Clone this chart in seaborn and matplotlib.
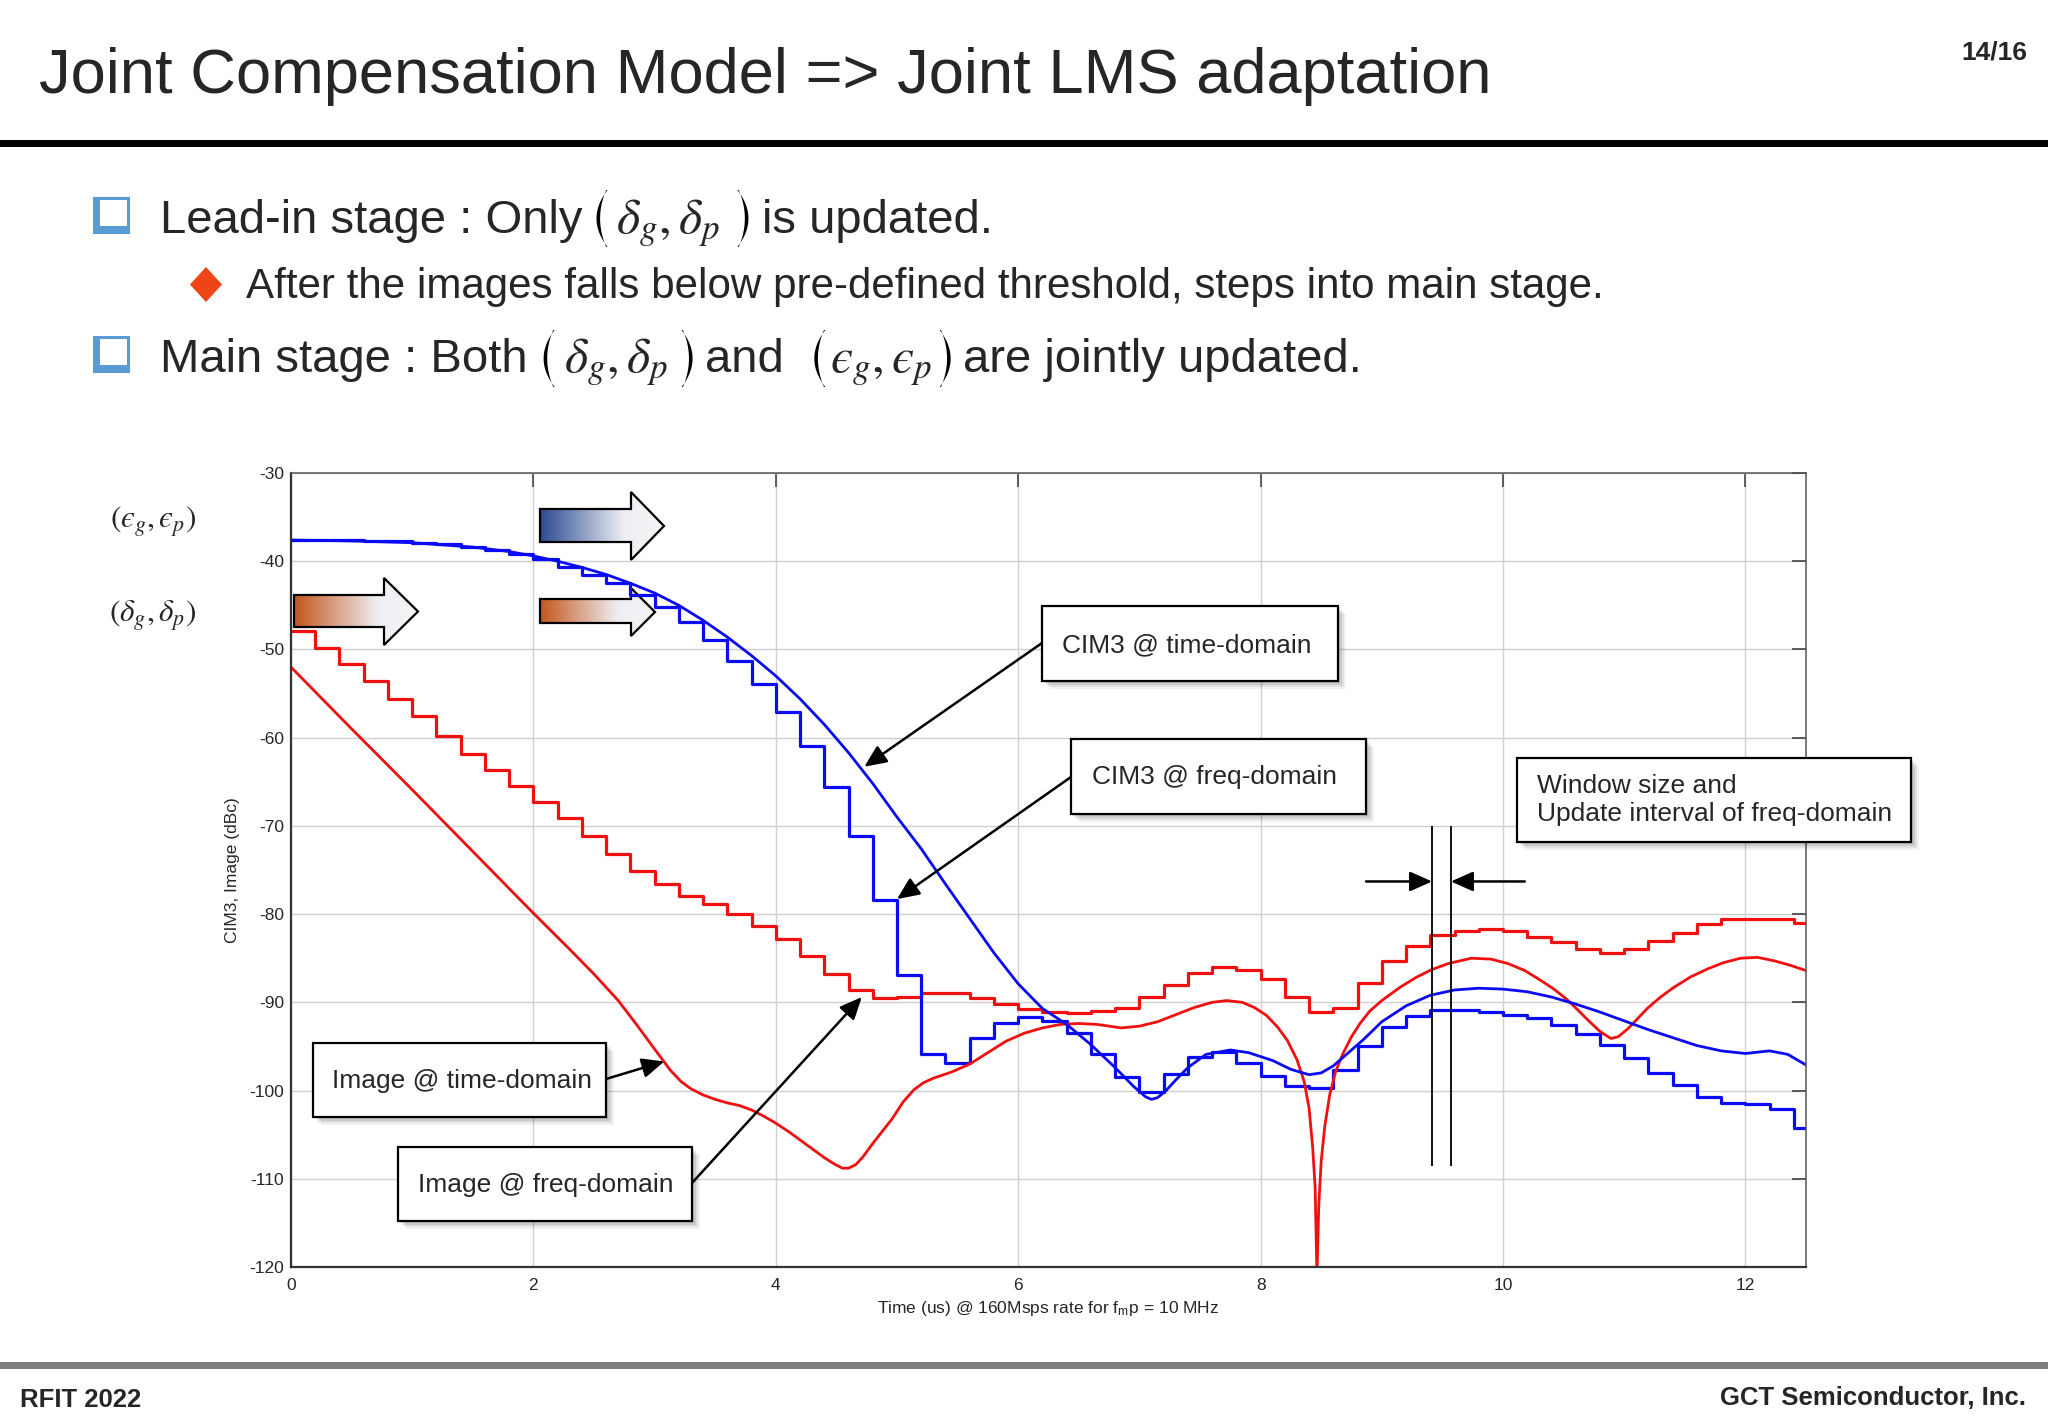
import numpy as np
import matplotlib
matplotlib.use("Agg")
import matplotlib.pyplot as plt
import seaborn as sns
from matplotlib.patches import Polygon, Rectangle
from matplotlib.colors import LinearSegmentedColormap

# ---------------- data ----------------
# CIM3 @ time-domain (smooth blue)
t_cim3 = [0.0, 0.5, 1.0, 1.5, 1.8, 2.0, 2.2, 2.4, 2.6, 2.8, 3.0, 3.2, 3.4, 3.6, 3.8,
          4.0, 4.2, 4.4, 4.6, 4.8, 5.0, 5.2, 5.4, 5.6, 5.8, 6.0, 6.2, 6.4, 6.6, 6.8,
          6.95, 7.05, 7.1, 7.15, 7.22, 7.3, 7.4, 7.55, 7.75, 7.9, 8.1, 8.25, 8.4,
          8.5, 8.6, 8.7, 8.85, 9.0, 9.2, 9.4, 9.6, 9.8, 10.0, 10.2, 10.4, 10.6, 10.8,
          11.0, 11.2, 11.4, 11.6, 11.8, 12.0, 12.2, 12.35, 12.5]
cim3_time = [-37.6, -37.7, -37.9, -38.4, -38.9, -39.4, -40.0, -40.7, -41.5, -42.5,
             -43.6, -45.0, -46.7, -48.6, -50.7, -53.0, -55.6, -58.5, -61.7, -65.2,
             -69.0, -72.6, -76.6, -80.5, -84.4, -87.9, -90.7, -92.5, -94.8, -97.4,
             -99.5, -100.7, -101.0, -100.8, -100.0, -98.8, -97.4, -95.9, -95.4, -95.7,
             -96.6, -97.6, -98.2, -98.0, -97.2, -96.0, -94.2, -92.2, -90.4, -89.2,
             -88.6, -88.4, -88.5, -88.8, -89.4, -90.2, -91.1, -92.1, -93.1, -94.0,
             -94.9, -95.5, -95.8, -95.5, -95.9, -97.1]

# Image @ time-domain (smooth red)
t_image = [0.0, 0.5, 1.0, 1.5, 2.0, 2.3, 2.5, 2.7, 2.85, 3.0, 3.13, 3.22, 3.3, 3.4,
           3.5, 3.6, 3.7, 3.8, 3.9, 4.0, 4.1, 4.2, 4.3, 4.4, 4.48, 4.55, 4.6, 4.66,
           4.72, 4.8, 4.88, 4.96, 5.05, 5.14, 5.22, 5.3, 5.45, 5.6, 5.75, 5.9, 6.05,
           6.2, 6.35, 6.5, 6.65, 6.85, 7.0, 7.15, 7.3, 7.45, 7.6, 7.72, 7.85, 7.95,
           8.05, 8.14, 8.22, 8.3, 8.36, 8.4, 8.43, 8.45, 8.465, 8.48, 8.5, 8.53, 8.57,
           8.62, 8.68, 8.75, 8.82, 8.9, 9.0, 9.15, 9.28, 9.41, 9.55, 9.74, 9.9, 10.04,
           10.18, 10.31, 10.42, 10.53, 10.62, 10.7, 10.8, 10.89, 10.95, 11.03, 11.1,
           11.19, 11.3, 11.41, 11.55, 11.69, 11.82, 11.96, 12.1, 12.24, 12.37, 12.5]
image_time = [-52.0, -59.0, -65.9, -72.9, -79.9, -84.0, -86.8, -89.8, -92.5, -95.3,
              -97.7, -99.0, -99.8, -100.5, -101.0, -101.4, -101.7, -102.2, -102.9,
              -103.7, -104.6, -105.6, -106.6, -107.6, -108.3, -108.8, -108.8, -108.4,
              -107.5, -106.0, -104.6, -103.2, -101.3, -99.9, -99.1, -98.6, -97.9,
              -97.0, -95.7, -94.4, -93.5, -92.9, -92.5, -92.4, -92.5, -92.9, -92.7,
              -92.2, -91.4, -90.6, -90.0, -89.8, -90.0, -90.6, -91.5, -92.8, -94.3,
              -96.5, -99.0, -102.0, -106.5, -111.0, -121.0, -113.0, -108.0, -104.0,
              -100.5, -97.8, -95.8, -93.9, -92.4, -91.0, -89.8, -88.3, -87.2, -86.3,
              -85.6, -85.0, -85.1, -85.6, -86.4, -87.5, -88.5, -89.7, -90.9, -92.0,
              -93.3, -94.1, -93.9, -93.0, -92.0, -90.7, -89.4, -88.3, -87.1, -86.2,
              -85.5, -85.0, -84.9, -85.3, -85.8, -86.4]

# freq-domain updates: one level per 0.2 us update interval
UPDATE_INTERVAL = 0.2
T_END = 12.5
image_freq = [-47.9, -49.8, -51.7, -53.6, -55.6, -57.6, -59.8, -61.8, -63.7, -65.5,
              -67.3, -69.1, -71.2, -73.2, -75.1, -76.6, -78.0, -78.9, -80.0, -81.3,
              -82.8, -84.8, -86.8, -88.6, -89.5, -89.4, -88.9, -88.9, -89.5, -90.2,
              -90.8, -91.1, -91.2, -91.0, -90.6, -89.4, -88.0, -86.7, -86.0, -86.3,
              -87.4, -89.4, -91.1, -90.6, -87.8, -85.3, -83.6, -82.4, -81.9, -81.7,
              -81.9, -82.6, -83.2, -83.9, -84.4, -83.9, -83.0, -82.1, -81.1, -80.6,
              -80.5, -80.6, -81.0]
cim3_freq = [-37.6, -37.6, -37.6, -37.7, -37.7, -37.9, -38.1, -38.4, -38.7, -39.2,
             -39.8, -40.6, -41.6, -42.5, -43.8, -45.2, -46.9, -48.9, -51.3, -53.9,
             -57.1, -60.9, -65.6, -71.2, -78.4, -86.9, -95.8, -96.9, -94.0, -92.3,
             -91.7, -92.1, -93.5, -95.8, -98.5, -100.2, -98.1, -96.2, -95.6, -96.9,
             -98.3, -99.5, -99.7, -97.7, -95.0, -92.8, -91.5, -90.9, -90.9, -91.1,
             -91.4, -91.8, -92.6, -93.6, -94.8, -96.3, -98.0, -99.4, -100.7, -101.4,
             -101.5, -102.1, -104.3]

x_ticks = [0, 2, 4, 6, 8, 10, 12]
y_ticks = [-30, -40, -50, -60, -70, -80, -90, -100, -110, -120]
window_edges = [9.415, 9.57]
window_span = (-108.6, -70)
window_arrow_y = -76.3

BLUE = "#0A0AF5"
RED = "#F01010"
EPS = "\u03f5"   # lunate epsilon, as on the slide
DELTA_PAIR = r"$\delta_g,\delta_p$"
EPS_PAIR = "$" + EPS + "_g," + EPS + "_p$"

# ---------------- style ----------------
sns.set_style("white")
plt.rcParams['font.family'] = ['Liberation Sans', 'DejaVu Sans']
plt.rcParams['mathtext.fontset'] = 'stix'
plt.rcParams['axes.unicode_minus'] = False

W, H = 2048, 1422
fig = plt.figure(figsize=(W / 100, H / 100), dpi=100, facecolor='white')
renderer = fig.canvas.get_renderer()


def fx(px):
    return px / W


def fy(py):
    return 1 - py / H


# layer under the plot (gradient arrows), the plot, layer over the plot (slide texts, boxes)
bg = fig.add_axes([0, 0, 1, 1], zorder=0)
ax = fig.add_axes([fx(291), fy(1267), (1806 - 291) / W, (1267 - 473) / H], zorder=1)
ax.set_facecolor('none')
top = fig.add_axes([0, 0, 1, 1], zorder=2)

# ---------------- the chart ----------------
step_t = np.round(np.arange(len(image_freq)) * UPDATE_INTERVAL, 1)
step_x = np.append(step_t, T_END)

sns.lineplot(x=step_x, y=np.append(image_freq, image_freq[-1]), ax=ax, color=RED,
             lw=2.3, drawstyle='steps-post', estimator=None, sort=False)
sns.lineplot(x=step_x, y=np.append(cim3_freq, cim3_freq[-1]), ax=ax, color=BLUE,
             lw=2.3, drawstyle='steps-post', estimator=None, sort=False)
sns.lineplot(x=t_image, y=image_time, ax=ax, color=RED, lw=2.0, estimator=None, sort=False)
sns.lineplot(x=t_cim3, y=cim3_time, ax=ax, color=BLUE, lw=2.0, estimator=None, sort=False)

ax.set_xlim(0, T_END)
ax.set_ylim(y_ticks[-1], y_ticks[0])
ax.set_xticks(x_ticks)
ax.set_yticks(y_ticks)
ax.grid(True, color='#cfcfcf', lw=1.0)
ax.set_axisbelow(True)
ax.tick_params(direction='in', length=10, width=1.2, color='#444444', labelsize=12.5,
               top=True, right=True)
ax.tick_params(axis='x', pad=8)
ax.tick_params(axis='y', pad=5)
for side in ['left', 'bottom']:
    ax.spines[side].set_color('#333333')
    ax.spines[side].set_linewidth(1.6)
for side in ['top', 'right']:
    ax.spines[side].set_color('#555555')
    ax.spines[side].set_linewidth(1.1)

ax.set_xlabel(r'Time (us) @ 160Msps rate for f$_{\mathregular{m}}$p = 10 MHz',
              fontsize=12.5, labelpad=4)
ax.set_ylabel('CIM3, Image (dBc)', fontsize=12.5, labelpad=7)

# window size markers
ax.vlines(window_edges, window_span[0], window_span[1], color='black', lw=1.3)
arrow_kw = dict(arrowstyle='-|>,head_length=0.9,head_width=0.4', color='black', lw=1.8,
                shrinkA=0, shrinkB=0, mutation_scale=15)
ax.annotate('', xy=(window_edges[0], window_arrow_y), xytext=(8.87, window_arrow_y),
            arrowprops=arrow_kw)
ax.annotate('', xy=(window_edges[1], window_arrow_y), xytext=(10.18, window_arrow_y),
            arrowprops=arrow_kw)

# callout arrows: tip on the curve, tail on the box edge
callouts = [((4.73, -63.3), (1042, 643)),
            ((5.0, -78.3), (1071, 777)),
            ((3.08, -96.7), (606, 1079)),
            ((4.71, -89.4), (692, 1183))]
for tip, tail in callouts:
    ax.annotate('', xy=tip, xycoords='data', xytext=(fx(tail[0]), fy(tail[1])),
                textcoords='figure fraction', arrowprops=arrow_kw, annotation_clip=False)

# ---------------- gradient block arrows ----------------
bg.set_axis_off()


def gradient_arrow(x0, xh, x1, ytop, ybot, yhtop, yhbot, dark):
    ymid = (yhtop + yhbot) / 2
    verts = [(x0, ytop), (xh, ytop), (xh, yhtop), (x1, ymid), (xh, yhbot), (xh, ybot), (x0, ybot)]
    poly = Polygon(verts, closed=True, fc='none', ec='black', lw=1.6, zorder=3, joinstyle='miter')
    bg.add_patch(poly)
    cmap = LinearSegmentedColormap.from_list('g', [(0, dark), (0.68, '#EEEFF3'), (1, '#F5F5F5')])
    ramp = np.linspace(0, 1, 256).reshape(1, -1)
    im = bg.imshow(ramp, cmap=cmap, extent=(x0, x1, yhbot, yhtop), aspect='auto', zorder=2,
                   interpolation='bilinear')
    im.set_clip_path(poly)


gradient_arrow(540, 631, 664, 509, 542, 492, 560, '#2A4A93')
gradient_arrow(294, 384, 418, 595, 627, 578, 645, '#C3561B')
gradient_arrow(540, 631, 655, 599, 623, 588, 636, '#C3561B')
bg.set_xlim(0, W)
bg.set_ylim(H, 0)

# ---------------- slide layer ----------------
top.set_axis_off()
top.set_xlim(0, W)
top.set_ylim(H, 0)

top.text(39, 93, 'Joint Compensation Model => Joint LMS adaptation', fontsize=45.5,
         ha='left', va='baseline')
top.text(2027, 59, '14/16', fontsize=19, fontweight='bold', ha='right', va='baseline')
top.add_patch(Rectangle((0, 140), W, 7, fc='black', ec='none'))


def square_bullet(x, y, s=34):
    top.add_patch(Rectangle((x, y), s, s, fc='white', ec='#5B9BD5', lw=2.2))
    top.add_patch(Rectangle((x, y), 6, s, fc='#5B9BD5', ec='none'))
    top.add_patch(Rectangle((x, y + s - 6), s, 6, fc='#5B9BD5', ec='none'))


def paren(x_left, ytop, ybot, closing=False, bulge=11, tip=1.3, mid=3.6):
    # tall thin bracket like the slide's math font: a crescent, thicker in the middle
    tt = np.linspace(-1, 1, 41)
    ys = (ytop + ybot) / 2 + tt * (ybot - ytop) / 2
    curve = 1 - tt ** 2
    if closing:
        outer = x_left + bulge * curve
        inner = x_left + tip + (bulge - mid - tip) * curve
    else:
        x_right = x_left + bulge
        outer = x_right - bulge * curve
        inner = x_right - tip - (bulge - mid - tip) * curve
    pts = np.vstack([np.column_stack([outer, ys]), np.column_stack([inner, ys])[::-1]])
    top.add_patch(Polygon(pts, closed=True, fc='black', ec='none'))
    return x_left + bulge


def rich_line(x, y, parts, ptop, pbot):
    # parts: (kind, content, gap after); kind 'txt', 'math', '(' or ')'
    for kind, content, gap in parts:
        if kind in '()':
            x = paren(x, ptop, pbot, closing=(kind == ')'))
        else:
            size = 34 if kind == 'txt' else 36
            t = top.text(x, y, content, fontsize=size, ha='left', va='baseline')
            x = t.get_window_extent(renderer).x1
        x += gap


# bullet 1
square_bullet(94, 198)
rich_line(160, 233, [('txt', 'Lead-in stage : Only', 14), ('(', '', 9),
                     ('math', DELTA_PAIR, 17), (')', '', 14), ('txt', 'is updated.', 0)],
          190, 247)

# sub-bullet
top.add_patch(Polygon([(206, 267), (222, 284.5), (206, 302), (190, 284.5)], closed=True,
                      fc='#EF4415', ec='none'))
top.text(246, 298, 'After the images falls below pre-defined threshold, steps into main stage.',
         fontsize=30.3, ha='left', va='baseline')

# bullet 2
square_bullet(94, 337)
rich_line(160, 372, [('txt', 'Main stage : Both', 16), ('(', '', 9),
                     ('math', DELTA_PAIR, 14), (')', '', 12), ('txt', 'and', 31),
                     ('(', '', 5), ('math', EPS_PAIR, 7), (')', '', 12),
                     ('txt', 'are jointly updated.', 0)],
          330, 387)

top.text(153, 522, '$(' + EPS + '_g,' + EPS + '_p)$', fontsize=22.5, ha='center', va='center')
top.text(153, 616, r'$(\delta_g,\delta_p)$', fontsize=22.5, ha='center', va='center')


def text_box(x0, y0, x1, y1, label, tx, ty):
    for off, a in [(8, 0.05), (6, 0.07), (4, 0.09), (2, 0.1)]:
        top.add_patch(Rectangle((x0 + off, y0 + off), x1 - x0, y1 - y0, fc='black',
                                ec='none', alpha=a))
    top.add_patch(Rectangle((x0, y0), x1 - x0, y1 - y0, fc='white', ec='black', lw=1.6))
    top.text(tx, ty, label, fontsize=19, ha='left', va='center', linespacing=1.25)


text_box(1042, 606, 1338, 681, 'CIM3 @ time-domain', 1062, 645)
text_box(1071, 739, 1366, 814, 'CIM3 @ freq-domain', 1092, 777)
text_box(1517, 758, 1911, 842, 'Window size and\nUpdate interval of freq-domain', 1537, 800)
text_box(313, 1043, 606, 1117, 'Image @ time-domain', 332, 1081)
text_box(398, 1147, 692, 1221, 'Image @ freq-domain', 418, 1185)

top.add_patch(Rectangle((0, 1362), W, 7, fc='#7F7F7F', ec='none'))
top.text(20, 1407, 'RFIT 2022', fontsize=18.5, fontweight='bold', ha='left', va='baseline')
top.text(2026, 1405, 'GCT Semiconductor, Inc.', fontsize=18.5, fontweight='bold',
         ha='right', va='baseline')

fig.savefig('out.png', dpi=100, facecolor='white')
